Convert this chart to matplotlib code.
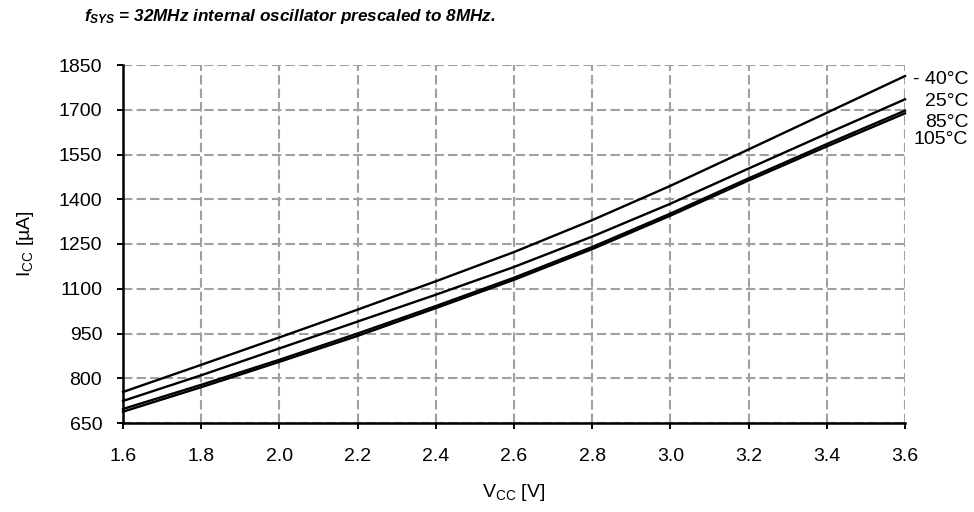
import matplotlib
matplotlib.use("Agg")
import matplotlib.pyplot as plt
import numpy as np

plt.rcParams['font.family'] = ['Liberation Sans', 'DejaVu Sans']
plt.rcParams['mathtext.fontset'] = 'custom'
plt.rcParams['mathtext.rm'] = 'Liberation Sans'
plt.rcParams['mathtext.it'] = 'Liberation Sans:italic:bold'
plt.rcParams['mathtext.bf'] = 'Liberation Sans:bold'

# Datos
vcc = [1.6, 1.8, 2.0, 2.2, 2.4, 2.6, 2.8, 3.0, 3.2, 3.4, 3.6]
icc_m40 = [754, 845, 937, 1030, 1125, 1223, 1330, 1445, 1567, 1690, 1813]
icc_25 = [724, 810, 900, 990, 1080, 1173, 1275, 1385, 1503, 1620, 1735]
icc_85 = [697, 778, 862, 950, 1042, 1137, 1240, 1352, 1470, 1585, 1697]
icc_105 = [688, 770, 855, 942, 1035, 1130, 1233, 1345, 1463, 1577, 1688]
etiquetas = ["- 40°C", "25°C", "85°C", "105°C"]
etiqueta_y = [1800, 1728, 1658, 1600]

xticks = [1.6, 1.8, 2.0, 2.2, 2.4, 2.6, 2.8, 3.0, 3.2, 3.4, 3.6]
yticks = [650, 800, 950, 1100, 1250, 1400, 1550, 1700, 1850]

fig = plt.figure(figsize=(9.74, 5.12), dpi=100)
ax = fig.add_axes([123/974, 1-423/512, (905-123)/974, (423-65)/512])

for serie in [icc_m40, icc_25, icc_85, icc_105]:
    ax.plot(vcc, serie, color='black', lw=1.7, zorder=3, clip_on=False)

ax.set_xlim(1.6, 3.6)
ax.set_ylim(650, 1850)
ax.set_xticks(xticks)
ax.set_xticklabels(["%.1f" % v for v in xticks])
ax.set_yticks(yticks)

ax.grid(True, color='#a0a0a0', linestyle=(0, (4.5, 2)), linewidth=1.5, zorder=1)
ax.spines['top'].set_visible(False)
ax.spines['right'].set_visible(False)
ax.spines['left'].set_linewidth(1.8)
ax.spines['bottom'].set_linewidth(1.8)
ax.tick_params(axis='x', direction='out', length=4, width=1.4, pad=14, labelsize=14)
ax.tick_params(axis='y', direction='out', length=4, width=1.4, pad=11, labelsize=14)

# etiquetas de temperatura a la derecha
for texto, yv in zip(etiquetas, etiqueta_y):
    ax.annotate(texto, xy=(3.6, yv), xycoords='data', xytext=(45.5, 0), textcoords='offset points',
                ha='right', va='center', fontsize=14, annotation_clip=False)

ax.set_xlabel(r"V$_{\mathrm{CC}}$ [V]", fontsize=14, labelpad=12)
ax.set_ylabel(r"I$_{\mathrm{CC}}$ [µA]", fontsize=14, labelpad=16)

fig.text(84/974, 1-17/512, r"$f_{SYS}$ = 32MHz internal oscillator prescaled to 8MHz.",
         fontsize=12.3, fontweight='bold', fontstyle='italic', ha='left', va='center')

fig.savefig("out.png", dpi=100)
